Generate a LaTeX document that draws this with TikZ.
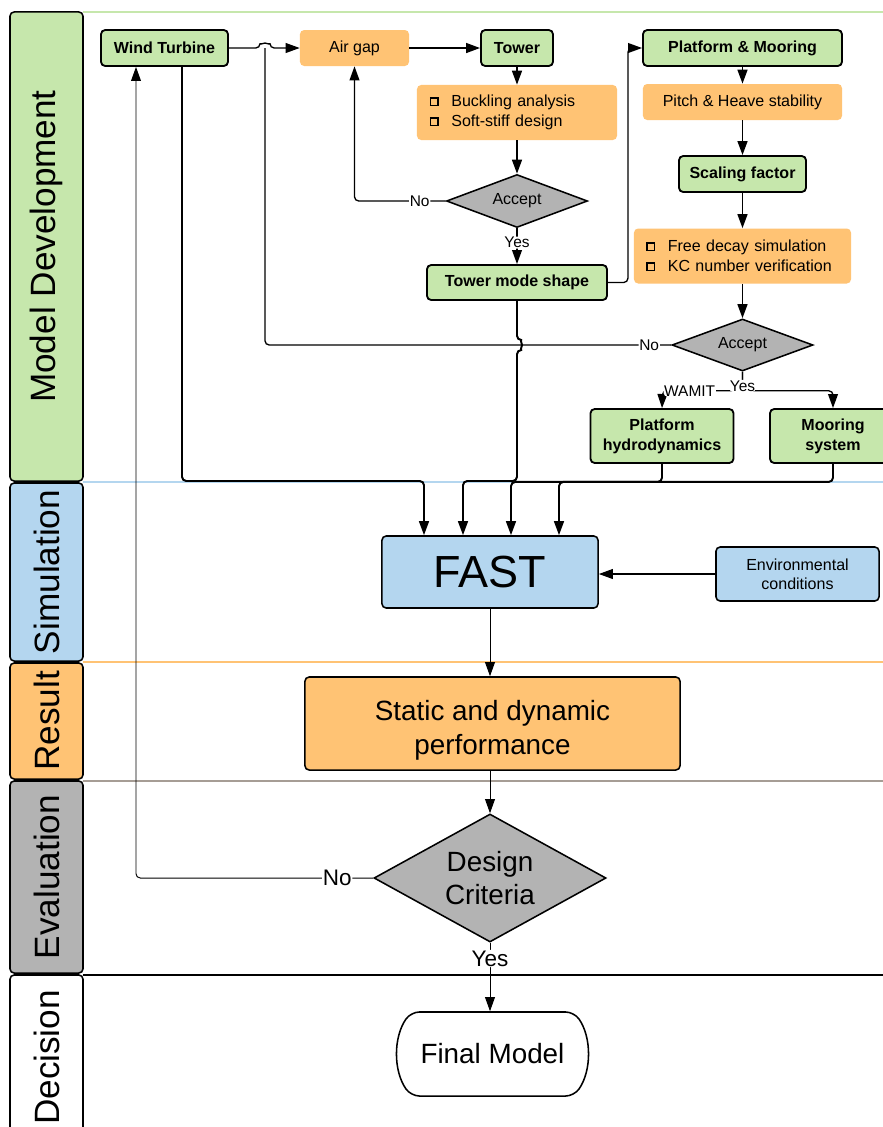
\documentclass[tikz,border=0pt]{standalone}
\usepackage{fontspec}
\setmainfont{Liberation Sans}
\usepackage{xcolor}
\definecolor{devGreen}{HTML}{C6E7AC}
\definecolor{resOrange}{HTML}{FFC374}
\definecolor{simBlue}{HTML}{B4D6EF}
\definecolor{evalGray}{HTML}{B3B3B3}
\definecolor{sepBrown}{HTML}{A69D95}
\usepackage{tikz}
\usetikzlibrary{shapes,arrows,positioning,calc,arrows.meta,shapes.misc,shapes.geometric}
\newcommand{\chkbox}{\raisebox{3.6pt}{\setlength{\fboxsep}{2.1pt}\setlength{\fboxrule}{1pt}\fbox{\rule{0pt}{0pt}}}\hspace{9pt}}
\tikzset{%
  laneHead/.style={%
    rectangle,
    rounded corners=3pt,
    draw=black,
    line width=1.1pt,
    rotate=90,
    minimum height=1.825cm,
    inner sep=0pt,
    font=\fontsize{25}{28}\selectfont
  },
  laneLine/.style={%
    line width=1.4pt
  },
  greenBox/.style={%
    rectangle,
    rounded corners=3pt,
    draw=black,
    line width=1.3pt,
    fill=devGreen,
    minimum height=0.9cm,
    inner sep=0pt,
    align=center,
    font=\bfseries\fontsize{11.4}{14.2}\selectfont
  },
  orangeBox/.style={%
    rectangle,
    rounded corners=3pt,
    fill=resOrange,
    minimum height=0.9cm,
    inner sep=0pt,
    align=center,
    font=\fontsize{11.4}{14.2}\selectfont
  },
  listBox/.style={%
    orangeBox,
    align=left,
    minimum height=1.375cm
  },
  blueBox/.style={%
    rectangle,
    rounded corners=3pt,
    draw=black,
    line width=1.1pt,
    fill=simBlue,
    inner sep=0pt,
    align=center
  },
  checkNode/.style={%
    diamond,
    draw=black,
    line width=1.1pt,
    fill=evalGray,
    inner sep=0pt,
    align=center
  },
  arrowLine/.style={%
    -{Triangle[length=10pt,width=7pt]},
    line width=1.4pt,
    rounded corners=3pt
  },
  flowLine/.style={%
    -{Triangle[length=10pt,width=7pt]},
    line width=0.95pt,
    rounded corners=3pt
  },
  thinLine/.style={%
    -{Triangle[length=10pt,width=7pt]},
    line width=0.7pt,
    rounded corners=3pt
  },
  lbl/.style={%
    fill=white,
    inner sep=0.5pt,
    font=\fontsize{11}{12}\selectfont
  },
  bigLbl/.style={%
    fill=white,
    inner sep=0.5pt,
    font=\fontsize{16}{18}\selectfont
  }
}

\begin{document}
\begin{tikzpicture}[x=0.025cm, y=-0.025cm]
  \fill[white] (0,0) rectangle (883,1127);
  \useasboundingbox (0,0) rectangle (883,1127);

  % swim lanes
  \draw[laneLine, devGreen] (83,12) -- (883,12);
  \draw[laneLine, simBlue] (83,482) -- (883,482);
  \draw[laneLine, resOrange] (83,662) -- (883,662);
  \draw[laneLine, sepBrown] (83,781) -- (883,781);
  \draw[laneLine, black] (83,975) -- (883,975);

  \node[laneHead, fill=devGreen, minimum width=11.725cm] (laneDev) at (46.5,246.5) {Model Development};
  \node[laneHead, fill=simBlue, minimum width=4.45cm] (laneSim) at (46.5,572) {Simulation};
  \node[laneHead, fill=resOrange, minimum width=2.9cm] (laneRes) at (46.5,721) {Result};
  \node[laneHead, fill=evalGray, minimum width=4.8cm] (laneEval) at (46.5,877) {Evaluation};
  \node[laneHead, fill=white, minimum width=4.125cm] (laneDec) at (46.5,1057.5) {Decision};

  % model development
  \node[greenBox, minimum width=3.175cm] (wt) at (164.5,48) {Wind Turbine};
  \node[orangeBox, minimum width=2.725cm] (airgap) at (354.5,48) {Air gap};
  \node[greenBox, minimum width=1.8cm] (tower) at (517,48) {Tower};
  \node[listBox, minimum width=5cm, text width=4.35cm, inner xsep=0.325cm] (buckle) at (517,112.5)
    {\chkbox Buckling analysis\\ \chkbox Soft-stiff design};
  \node[checkNode, aspect=2.66, minimum width=3.525cm, minimum height=1.325cm,
    font=\fontsize{11.4}{14}\selectfont] (accept1) at (517,201) {Accept};
  \node[greenBox, minimum width=4.5cm, minimum height=0.875cm] (tms) at (517,282.5) {Tower mode shape};

  \node[greenBox, minimum width=4.975cm] (pm) at (742.5,48) {Platform \& Mooring};
  \node[orangeBox, minimum width=4.975cm] (pitch) at (742.5,102) {Pitch \& Heave stability};
  \node[greenBox, minimum width=3.175cm] (scale) at (742.5,174) {Scaling factor};
  \node[listBox, minimum width=5.425cm, text width=4.8cm, inner xsep=0.3125cm] (decay) at (742.5,256)
    {\chkbox Free decay simulation\\ \chkbox KC number verification};
  \node[checkNode, aspect=2.7, minimum width=3.525cm, minimum height=1.3cm,
    font=\fontsize{11.4}{14}\selectfont] (accept2) at (742.5,345) {Accept};
  \node[greenBox, minimum width=3.575cm, minimum height=1.35cm] (hydro) at (662,436) {Platform\\hydrodynamics};
  \node[greenBox, minimum width=3.15cm, minimum height=1.35cm] (moor) at (833,436) {Mooring\\system};

  % simulation, result, evaluation, decision
  \node[blueBox, minimum width=5.4cm, minimum height=1.8cm, font=\fontsize{32}{36}\selectfont] (fast) at (490,572) {FAST};
  \node[blueBox, minimum width=4.075cm, minimum height=1.35cm, font=\fontsize{11.4}{13.6}\selectfont] (env) at (797.5,574) {Environmental\\conditions};
  \node[orangeBox, draw=black, line width=1.1pt, minimum width=9.375cm, minimum height=2.325cm,
    font=\fontsize{19.8}{24}\selectfont] (perf) at (492.5,723.5) {\rule{0pt}{24pt}Static and dynamic\\performance};
  \node[checkNode, aspect=1.81, minimum width=5.8cm, minimum height=3.2cm,
    font=\fontsize{19.8}{23.5}\selectfont] (design) at (490,878) {Design\\Criteria};
  \node[rounded rectangle, rounded rectangle arc length=70, rounded corners=6pt, draw=black, line width=1.1pt, fill=white,
    minimum width=4.975cm, minimum height=2.1cm, font=\fontsize{19.8}{24}\selectfont] (final) at (492.5,1054) {Final Model};

  % connectors
  \draw[flowLine] (wt.east) -- (260,48) arc (180:360:5) -- (airgap.west);
  \draw[arrowLine] (airgap) -- (tower);
  \draw[arrowLine] (tower) -- (buckle);
  \draw[arrowLine] (buckle) -- (accept1);
  \draw[flowLine] (accept1.west) -- ++(-26,0) node[lbl]{No} -| (airgap.south);
  \draw[flowLine] (accept1.south) -- node[lbl, pos=0.4]{Yes} (tms.north);
  \draw[flowLine] (tms.east) -- ++(20,0) |- (pm.west);

  \draw[arrowLine] (pm) -- (pitch);
  \draw[arrowLine] (pitch) -- (scale);
  \draw[arrowLine] (scale) -- (decay);
  \draw[arrowLine] (decay) -- (accept2);
  \coordinate (joinNo) at (265,48);
  \draw[line width=0.95pt, rounded corners=3pt] (accept2.west) -- ++(-22,0) node[lbl]{No} -| (joinNo);
  \draw[flowLine] (accept2.south) -- ++(0,19) -- node[lbl, pos=0.66]{WAMIT} ++(-80,0) -- (hydro.north);
  \draw[flowLine] (accept2.south) -- node[lbl, pos=0.75]{Yes} ++(0,19) -| (moor.north);

  % into FAST
  \draw[arrowLine] ($(wt.south)+(17.5,0)$) |- (424,481) -- ($(fast.north)+(-66,0)$);
  \draw[arrowLine] (tms.south) -- (517,340) arc (270:450:5) -- (517,481) -| ($(fast.north)+(-27,0)$);
  \draw[arrowLine] (hydro.south) -- ++(0,18) -| ($(fast.north)+(21,0)$);
  \draw[arrowLine] (moor.south) -- ++(0,18) -| ($(fast.north)+(69,0)$);
  \draw[flowLine] (env.west) -- (env.west -| fast.east);

  \draw[thinLine] (fast.south) -- (fast.south |- perf.north);
  \draw[thinLine] (perf.south -| design.north) -- (design.north);
  \draw[thinLine] (design.west) -- ++(-36,0) node[bigLbl]{No} -| ($(wt.south)+(-28.5,0)$);
  \draw[thinLine] (design.south) -- node[bigLbl, pos=0.23]{Yes} (design.south |- final.north);
\end{tikzpicture}
\end{document}
